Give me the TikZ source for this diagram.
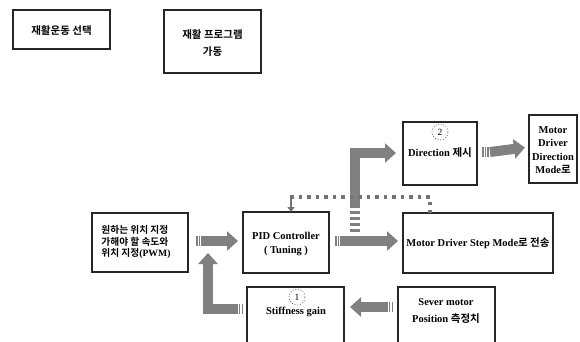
\documentclass[tikz,border=0pt]{standalone}
\usepackage{fontspec}
\setmainfont{Liberation Serif}
\newfontfamily\kr{Noto Sans CJK KR}[BoldFont={Noto Sans CJK KR Bold}]
\usetikzlibrary{arrows.meta,calc}
\begin{document}
\begin{tikzpicture}[x=1pt,y=-1pt,
  box/.style={draw=black!85, line width=1.1pt, fill=white, inner sep=0pt, outer sep=0pt},
  lbl/.style={font=\bfseries\fontsize{10.5}{12.5}\selectfont, align=center, inner sep=0pt},
  bigarrow/.style={draw=black!50, line width=10pt, -{Triangle[width=19pt,length=11pt]}, line join=miter, line cap=butt},
  stripe/.style={draw=black!50, line width=10pt, dash pattern=on 1.5pt off 1.2pt},
  vstripe/.style={draw=black!50, line width=10pt, dash pattern=on 3pt off 3pt},
  dotline/.style={draw=black!55, line width=3.5pt, dash pattern=on 3.5pt off 5pt},
  numcirc/.style={circle, draw=black!80, dotted, line width=0.7pt, minimum size=16pt, inner sep=0pt, font=\fontsize{9.5}{9.5}\selectfont}
]
\useasboundingbox (0,0) rectangle (580,341);
\clip (0,0) rectangle (580,341);
\fill[white] (0,0) rectangle (580,341);

% boxes
\node[box, minimum width=97pt, minimum height=39pt] (sel) at (61.5,29.5) {};
\node[lbl] (selt) at (61.5,31) {\kr 재활운동 선택};
\node[box, minimum width=97pt, minimum height=63pt] (prog) at (212.5,41.5) {};
\node[lbl, font=\bfseries\fontsize{10.5}{17}\selectfont] (progt) at (212.5,43) {\kr 재활 프로그램\\\kr 가동};
\node[box, minimum width=96pt, minimum height=59pt] (want) at (140,242.5) {};
\node[lbl, align=left, font=\bfseries\fontsize{9.7}{11.5}\selectfont] (wantt) at (136,242) {\kr 원하는 위치 지정\\\kr 가해야 할 속도와\\\kr 위치 지정{\rmfamily (PWM)}};
\node[box, minimum width=86pt, minimum height=61pt] (pid) at (286,242.5) {};
\node[lbl, font=\bfseries\fontsize{10.5}{14}\selectfont] (pidt) at (286,244) {PID Controller\\( Tuning )};
\node[box, minimum width=74pt, minimum height=63pt] (dir) at (440,153.5) {};
\node[numcirc] (c2) at (440,132) {2};
\node[lbl] (dirt) at (440,153) {Direction {\kr 제시}};
\node[box, minimum width=48pt, minimum height=68pt] (mdir) at (553,149) {};
\node[lbl, font=\bfseries\fontsize{10.5}{13.5}\selectfont] (mdirt) at (553,150) {Motor\\Driver\\Direction\\Mode{\kr 로}};
\node[box, minimum width=150pt, minimum height=60pt] (step) at (478,243) {};
\node[lbl] (stept) at (478,243) {Motor Driver Step Mode{\kr 로 전송}};
\node[box, minimum width=97pt, minimum height=70pt] (stiff) at (295.5,322) {};
\node[numcirc] (c1) at (297,297) {1};
\node[lbl] (stifft) at (296,312) {Stiffness gain};
\node[box, minimum width=97pt, minimum height=70pt] (sever) at (446.5,322) {};
\node[lbl, font=\bfseries\fontsize{10.5}{17.5}\selectfont] (severt) at (446,311) {Sever motor\\Position {\kr 측정치}};

% arrows
\draw[stripe] ($(want.east)+(8,-1.5)$) -- ($(want.east)+(15,-1.5)$);
\draw[bigarrow] ($(want.east)+(15,-1.5)$) -- ($(pid.west)+(-5,-1.5)$);

\draw[stripe] ($(pid.east)+(6,-1.5)$) -- ($(pid.east)+(13,-1.5)$);
\draw[bigarrow] ($(pid.east)+(13,-1.5)$) -- ($(step.west)+(-5,-2)$);

\draw[vstripe] (355,232) -- (355,206);
\draw[bigarrow] (355,206.5) |- ($(dir.west)+(-7,-0.5)$);

\draw[stripe] ($(dir.east)+(5,-1.5)$) -- ($(dir.east)+(13,-1.5)$);
\draw[bigarrow] ($(dir.east)+(13,-1.5)$) -- ($(mdir.west)+(-4,-1.5)$);

\draw[stripe] ($(sever.west)+(-5,-15)$) -- ($(sever.west)+(-11,-15)$);
\draw[bigarrow] ($(sever.west)+(-11,-15)$) -- ($(stiff.east)+(6,-15)$);

\draw[stripe] ($(stiff.west)+(-4,-13)$) -- ($(stiff.west)+(-10,-13)$);
\draw[bigarrow] ($(stiff.west)+(-10,-13)$) -| ($(want.south east)+(20,-19)$);

% dotted feedback line
\coordinate (dl) at (290,197);
\coordinate (dr) at (430,197);
\coordinate (ds) at (291,199);
\draw[dotline] (dl) -- (dr) -- (dr |- step.north);
\draw[draw=black!55, line width=2.5pt, -{Triangle[width=7pt,length=5pt]}] (ds) -- (ds |- pid.north);
\end{tikzpicture}
\end{document}
